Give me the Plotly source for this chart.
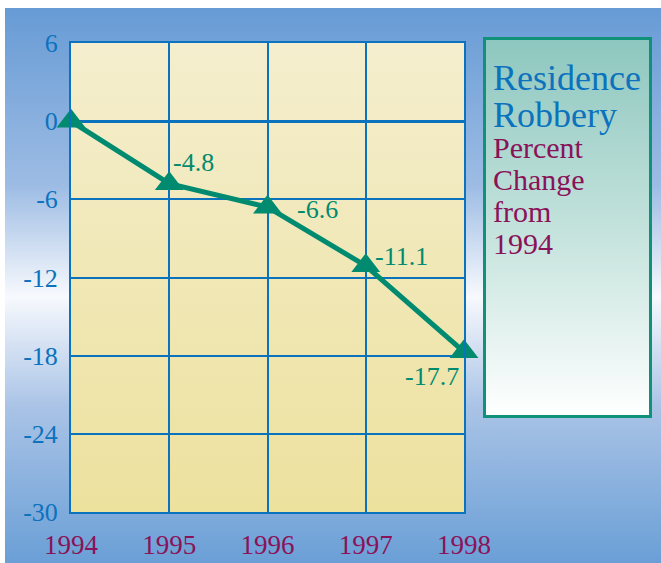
import base64
import plotly.graph_objects as go

years = ["1994", "1995", "1996", "1997", "1998"]
pct_change = [0, -4.8, -6.6, -11.1, -17.7]
label_text = ["", "-4.8", "-6.6", "-11.1", "-17.7"]
y_ticks = [6, 0, -6, -12, -18, -24, -30]
y_ticktext = ["6", "0", "-6", "-12", "-18", "-24", "-30"]
title_lines = ["Residence", "Robbery"]
subtitle_lines = ["Percent", "Change", "from", "1994"]

W, H = 661, 563
ML, MR, MT, MB = 71, 197, 43, 51
PW, PH = W - ML - MR, H - MT - MB

BLUE = "#0b72bd"
GREEN = "#008b70"
PURPLE = "#8a1258"
FONT = "Liberation Serif"


def px_x(px):
    return (px - ML) / PW


def px_y(py):
    return 1 - (py - MT) / PH


# decorative background (gradients) drawn as an SVG layout image
svg = f"""<svg xmlns='http://www.w3.org/2000/svg' width='{W}' height='{H}' viewBox='0 0 {W} {H}'>
<defs>
<linearGradient id='bg' x1='0' y1='0' x2='0' y2='1'>
<stop offset='0' stop-color='#679bd5'/>
<stop offset='0.32' stop-color='#9dbce4'/>
<stop offset='0.52' stop-color='#f7f9fd'/>
<stop offset='0.72' stop-color='#a9c3e6'/>
<stop offset='1' stop-color='#6a9fd6'/>
</linearGradient>
<linearGradient id='pa' x1='0' y1='0' x2='0' y2='1'>
<stop offset='0' stop-color='#f4eece'/>
<stop offset='1' stop-color='#ede19e'/>
</linearGradient>
<linearGradient id='lg' x1='0' y1='0' x2='0' y2='1'>
<stop offset='0' stop-color='#8dc7bf'/>
<stop offset='0.55' stop-color='#c9e5df'/>
<stop offset='1' stop-color='#ffffff'/>
</linearGradient>
</defs>
<rect x='0' y='0' width='{W}' height='{H}' fill='#ffffff'/>
<rect x='5' y='8' width='{W-5}' height='{H-8}' fill='url(#bg)'/>
<rect x='{ML}' y='{MT}' width='{PW}' height='{PH}' fill='url(#pa)'/>
<rect x='484.5' y='38.5' width='166' height='378' fill='url(#lg)' stroke='#0f917a' stroke-width='3'/>
</svg>"""
src = "data:image/svg+xml;base64," + base64.b64encode(svg.encode()).decode()

fig = go.Figure()
fig.add_trace(go.Scatter(
    x=list(range(len(years))), y=pct_change, mode="lines+markers",
    line=dict(color=GREEN, width=5),
    marker=dict(symbol="triangle-up", size=25, color=GREEN),
    cliponaxis=False, hoverinfo="skip", showlegend=False,
))

label_shift = [(0, 0), (24, 21), (50, -2), (36, 9), (-32, -25)]
for i, (t, v) in enumerate(zip(label_text, pct_change)):
    if not t:
        continue
    dx, dy = label_shift[i]
    fig.add_annotation(x=i, y=v, text=t, showarrow=False, xshift=dx, yshift=dy,
                       font=dict(family=FONT, size=26, color=GREEN))

# side title, one annotation per line
for k, line in enumerate(title_lines):
    fig.add_annotation(xref="paper", yref="paper", x=px_x(491), y=px_y(78 + 37 * k),
                       xanchor="left", yanchor="middle", showarrow=False, text=line,
                       font=dict(family=FONT, size=36, color=BLUE))
for k, line in enumerate(subtitle_lines):
    fig.add_annotation(xref="paper", yref="paper", x=px_x(491), y=px_y(147 + 32.3 * k),
                       xanchor="left", yanchor="middle", showarrow=False, text=line,
                       font=dict(family=FONT, size=30, color=PURPLE))

fig.add_layout_image(dict(source=src, xref="paper", yref="paper",
                          x=-ML / PW, y=1 + MT / PH, sizex=W / PW, sizey=H / PH,
                          xanchor="left", yanchor="top", sizing="stretch", layer="below"))

fig.update_xaxes(range=[0, 4], tickvals=list(range(len(years))), ticktext=years,
                 showgrid=True, gridcolor=BLUE, gridwidth=2, zeroline=False,
                 showline=True, linecolor=BLUE, linewidth=2, mirror=True,
                 ticks="", ticklabelstandoff=8, automargin=False,
                 tickfont=dict(family=FONT, size=27, color=PURPLE))
fig.update_yaxes(range=[-30, 6], tickvals=y_ticks, ticktext=y_ticktext,
                 showgrid=True, gridcolor=BLUE, gridwidth=2,
                 zeroline=True, zerolinecolor=BLUE, zerolinewidth=3,
                 showline=True, linecolor=BLUE, linewidth=2, mirror=True,
                 ticks="", ticklabelstandoff=6, automargin=False,
                 tickfont=dict(family=FONT, size=26, color=BLUE))

fig.update_layout(width=W, height=H, autosize=False,
                  margin=dict(l=ML, r=MR, t=MT, b=MB, autoexpand=False),
                  paper_bgcolor="rgba(0,0,0,0)", plot_bgcolor="rgba(0,0,0,0)")

fig.write_html("out.html", config={"displayModeBar": False},
               post_script="document.body.style.margin='0';document.body.style.overflow='hidden';")
